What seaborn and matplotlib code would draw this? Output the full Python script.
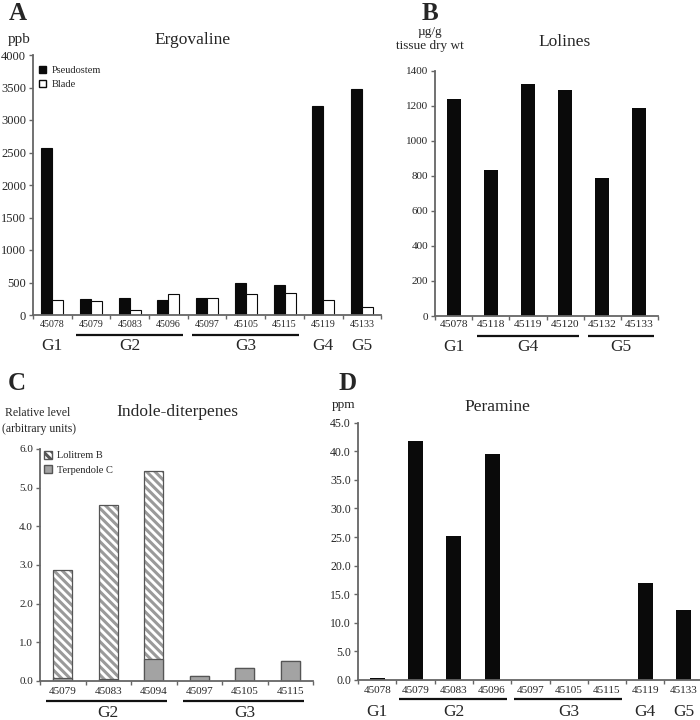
import numpy as np
import pandas as pd
import matplotlib
matplotlib.use('Agg')
import matplotlib.pyplot as plt
import matplotlib.transforms as mtrans
from matplotlib.patches import Patch
import seaborn as sns

# ---------------- data ----------------
# Panel A: Ergovaline (ppb)
isolates_a = ["45078", "45079", "45083", "45096", "45097", "45105", "45115", "45119", "45133"]
groups_a = ["G1", "G2", "G2", "G2", "G3", "G3", "G3", "G4", "G5"]
ergo_pseudostem = [2570, 253, 263, 227, 258, 495, 469, 3215, 3470]
ergo_blade = [237, 216, 82, 325, 258, 330, 335, 237, 120]

# Panel B: Lolines (ug/g tissue dry wt)
isolates_b = ["45078", "45118", "45119", "45120", "45132", "45133"]
groups_b = ["G1", "G4", "G4", "G4", "G5", "G5"]
lolines = [1237, 833, 1322, 1290, 786, 1185]

# Panel C: Indole-diterpenes (relative level)
isolates_c = ["45079", "45083", "45094", "45097", "45105", "45115"]
groups_c = ["G2", "G2", "G2", "G3", "G3", "G3"]
lolitrem_b = [2.81, 4.51, 4.85, 0.0, 0.0, 0.0]
terpendole_c = [0.07, 0.05, 0.57, 0.13, 0.33, 0.52]

# Panel D: Peramine (ppm)
isolates_d = ["45078", "45079", "45083", "45096", "45097", "45105", "45115", "45119", "45133"]
groups_d = ["G1", "G2", "G2", "G2", "G3", "G3", "G3", "G4", "G5"]
peramine = [0.4, 41.8, 25.2, 39.5, 0.0, 0.0, 0.0, 16.9, 12.3]

# ---------------- style ----------------
sns.set_theme(style='white')
plt.rcParams['font.family'] = ['Liberation Serif', 'DejaVu Serif']
plt.rcParams['hatch.linewidth'] = 2.2

W, H = 700, 720
fig = plt.figure(figsize=(7, 7.2), dpi=100)
fig.patch.set_facecolor('white')


def fx(x):
    return x / W


def fy(y):
    return 1 - y / H


def make_ax(left, top, right, bottom):
    return fig.add_axes([left / W, 1 - bottom / H, (right - left) / W, (bottom - top) / H])


AXC = '#666666'


def style_ax(ax, n, ymax, yticks, yfmt, xfs, yfs, xpad):
    ax.set_xlim(-0.5, n - 0.5)
    ax.set_ylim(0, ymax)
    sns.despine(ax=ax)
    for s in ['left', 'bottom']:
        ax.spines[s].set_color(AXC)
        ax.spines[s].set_linewidth(1.3)
    ax.set_yticks(yticks)
    ax.set_yticklabels([yfmt.format(v) for v in yticks], fontsize=yfs)
    ax.tick_params(axis='y', which='major', length=3, width=1, color=AXC, pad=2, left=True)
    ax.tick_params(axis='x', which='major', length=0, pad=xpad, labelsize=xfs, bottom=True)
    ax.set_xticks(np.arange(n + 1) - 0.5, minor=True)
    ax.tick_params(axis='x', which='minor', length=3, width=1, color=AXC, bottom=True)
    ax.set_xlabel('')
    ax.set_ylabel('')
    ax.grid(False)
    ax.set_facecolor('none')


def group_labels(ax, groups, y_line, y_text, lo=0.38, hi=0.38, fs=12.5):
    tr = mtrans.blended_transform_factory(ax.transData, fig.transFigure)
    runs = []
    start = 0
    for i in range(1, len(groups) + 1):
        if i == len(groups) or groups[i] != groups[start]:
            runs.append((groups[start], start, i - 1))
            start = i
    for g, a, b in runs:
        ax.text((a + b) / 2, fy(y_text), g, transform=tr, ha='center', va='center', fontsize=fs)
        if b > a:
            ax.plot([a - lo, b + hi], [fy(y_line)] * 2, transform=tr, color='#111111',
                    lw=1.6, clip_on=False, solid_capstyle='butt')


# ---------------- Panel A ----------------
axA = make_ax(33, 55, 33 + 9 * 38.7, 315)
df_a = pd.DataFrame({
    'isolate': isolates_a * 2,
    'tissue': ['Pseudostem'] * len(isolates_a) + ['Blade'] * len(isolates_a),
    'ppb': ergo_pseudostem + ergo_blade,
})
sns.barplot(data=df_a, x='isolate', y='ppb', hue='tissue', hue_order=['Pseudostem', 'Blade'],
            palette=['#0a0a0a', 'white'], saturation=1, edgecolor='#0a0a0a', linewidth=0.8,
            width=0.57, legend=False, ax=axA, errorbar=None)
style_ax(axA, 9, 4000, np.arange(0, 4001, 500), '{:.0f}', 7.2, 9, 3.5)
group_labels(axA, groups_a, 335, 346)
axA.legend(handles=[Patch(facecolor='#0a0a0a', edgecolor='#0a0a0a'),
                    Patch(facecolor='white', edgecolor='#0a0a0a')],
           labels=['Pseudostem', 'Blade'], loc='upper left',
           bbox_to_anchor=(fx(39), fy(66)), bbox_transform=fig.transFigure,
           frameon=False, fontsize=7.5, handlelength=0.7, handleheight=0.7,
           handletextpad=0.5, labelspacing=0.45, borderpad=0, borderaxespad=0)
fig.text(fx(18), fy(14), 'A', fontsize=18, fontweight='bold', ha='center', va='center')
fig.text(fx(19), fy(40), 'ppb', fontsize=11, ha='center', va='center')
fig.text(fx(193), fy(40), 'Ergovaline', fontsize=12.5, ha='center', va='center')

# ---------------- Panel B ----------------
axB = make_ax(435, 70.7, 658, 316)
sns.barplot(x=isolates_b, y=lolines, color='#0a0a0a', saturation=1, linewidth=0,
            width=0.38, ax=axB, errorbar=None)
style_ax(axB, 6, 1400, np.arange(0, 1401, 200), '{:.0f}', 8.2, 8, 3)
group_labels(axB, groups_b, 336, 347)
fig.text(fx(430), fy(13), 'B', fontsize=18, fontweight='bold', ha='center', va='center')
fig.text(fx(430), fy(32), 'µg/g', fontsize=9.5, ha='center', va='center')
fig.text(fx(430), fy(46), 'tissue dry wt', fontsize=9.5, ha='center', va='center')
fig.text(fx(565), fy(42), 'Lolines', fontsize=12.5, ha='center', va='center')

# ---------------- Panel C ----------------
axC = make_ax(40, 449, 313, 681)
total_c = [l + t for l, t in zip(lolitrem_b, terpendole_c)]
sns.barplot(x=isolates_c, y=total_c, color='white', saturation=1, edgecolor='#9a9a9a',
            linewidth=0, hatch='\\\\\\\\', width=0.42, ax=axC, errorbar=None)
sns.barplot(x=isolates_c, y=total_c, color='#555555', saturation=1, fill=False,
            linewidth=0.9, width=0.42, ax=axC, errorbar=None)
sns.barplot(x=isolates_c, y=terpendole_c, color='#a3a3a3', saturation=1, edgecolor='#555555',
            linewidth=0.9, width=0.42, ax=axC, errorbar=None)
style_ax(axC, 6, 6, np.arange(0, 7, 1), '{:.1f}', 8, 8, 4.5)
group_labels(axC, groups_c, 701, 713, lo=0.36, hi=0.3)
axC.legend(handles=[Patch(facecolor='white', edgecolor='#555555', hatch='\\\\\\\\'),
                    Patch(facecolor='#a3a3a3', edgecolor='#555555')],
           labels=['Lolitrem B', 'Terpendole C'], loc='upper left',
           bbox_to_anchor=(fx(44), fy(451)), bbox_transform=fig.transFigure,
           frameon=False, fontsize=7.5, handlelength=0.75, handleheight=0.75,
           handletextpad=0.5, labelspacing=0.45, borderpad=0, borderaxespad=0)
fig.text(fx(17), fy(383), 'C', fontsize=18, fontweight='bold', ha='center', va='center')
fig.text(fx(38), fy(413), 'Relative level', fontsize=8.5, ha='center', va='center')
fig.text(fx(39), fy(429), '(arbitrary units)', fontsize=8.5, ha='center', va='center')
fig.text(fx(177), fy(412), 'Indole-diterpenes', fontsize=12.5, ha='center', va='center')

# ---------------- Panel D ----------------
axD = make_ax(358, 422.7, 358 + 9 * 38.3, 680)
sns.barplot(x=isolates_d, y=peramine, color='#0a0a0a', saturation=1, linewidth=0,
            width=0.39, ax=axD, errorbar=None)
style_ax(axD, 9, 45, np.arange(0, 46, 5), '{:.1f}', 8, 8.5, 4)
group_labels(axD, groups_d, 699, 711.7, lo=0.42, hi=0.38)
fig.text(fx(348), fy(383), 'D', fontsize=18, fontweight='bold', ha='center', va='center')
fig.text(fx(344), fy(405), 'ppm', fontsize=9.5, ha='center', va='center')
fig.text(fx(497), fy(407), 'Peramine', fontsize=12.5, ha='center', va='center')

fig.savefig('out.png', dpi=100, facecolor='white')
